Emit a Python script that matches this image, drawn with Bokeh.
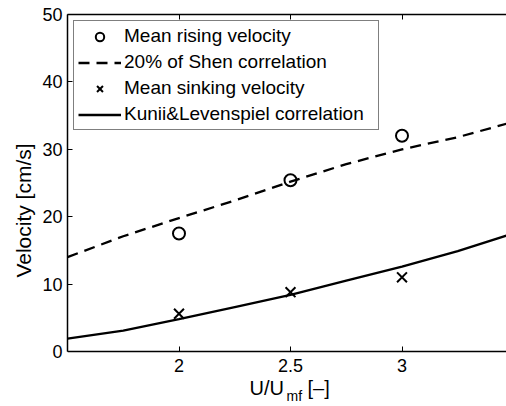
from bokeh.plotting import figure
from bokeh.models import (Range1d, FixedTicker, LinearAxis, Legend, LegendItem,
                          Label, CustomJSTickFormatter)
from bokeh.embed import file_html
from bokeh.resources import INLINE

# ---- data ----
u_ratio = [2.0, 2.5, 3.0]
rising = [17.5, 25.4, 32.0]
sinking = [5.6, 8.8, 11.0]

corr_x = [1.5, 1.75, 2.0, 2.25, 2.5, 2.75, 3.0, 3.25, 3.47]
shen20 = [14.0, 17.1, 19.8, 22.4, 25.2, 27.8, 30.0, 31.8, 33.8]
kunii = [1.9, 3.1, 4.8, 6.6, 8.4, 10.5, 12.6, 14.9, 17.2]

x_ticks = [2, 2.5, 3]
y_ticks = [0, 10, 20, 30, 40, 50]

FONT = "Liberation Sans"

# frame reaches the bottom of the page; the x axis is pinned at y = 0
p = figure(width=506, height=406, output_backend="svg", toolbar_location=None,
           x_range=Range1d(1.5, 3.4686), y_range=Range1d(-8.16, 50),
           min_border_left=67, min_border_right=0, min_border_top=14,
           min_border_bottom=0)
p.xgrid.visible = False
p.ygrid.visible = False
p.outline_line_color = None
p.background_fill_color = "white"
p.border_fill_color = "white"

p.xaxis.ticker = FixedTicker(ticks=x_ticks)
p.yaxis.ticker = FixedTicker(ticks=y_ticks)
p.xaxis.fixed_location = 0
p.yaxis.bounds = (0, 50)

for ax in [p.xaxis[0], p.yaxis[0]]:
    ax.major_tick_in = 5
    ax.major_tick_out = 0
    ax.minor_tick_in = 0
    ax.minor_tick_out = 0
    ax.axis_line_width = 1.5
    ax.axis_line_color = "black"
    ax.major_tick_line_color = "black"
    ax.major_tick_line_width = 1
    ax.major_label_text_font = FONT
    ax.major_label_text_font_size = "18px"
    ax.major_label_text_color = "black"

p.xaxis.major_label_standoff = 7
p.yaxis.major_label_standoff = 5
p.yaxis.axis_label = "Velocity [cm/s]"
p.yaxis.axis_label_text_font = FONT
p.yaxis.axis_label_text_font_size = "21px"
p.yaxis.axis_label_text_font_style = "normal"
p.yaxis.axis_label_text_color = "black"
p.yaxis.axis_label_standoff = 4

top = LinearAxis(ticker=FixedTicker(ticks=x_ticks),
                 formatter=CustomJSTickFormatter(code="return ''"),
                 major_tick_in=5, major_tick_out=0, minor_tick_in=0, minor_tick_out=0,
                 axis_line_width=1.5, axis_line_color="black",
                 major_label_text_font_size="0px", major_label_standoff=0)
p.add_layout(top, "above")

r_rise = p.scatter(u_ratio, rising, marker="circle", size=12, fill_color=None,
                   line_color="black", line_width=2)
r_shen = p.line(corr_x, shen20, line_dash="11 7", line_width=2.3, color="black")
r_sink = p.scatter(u_ratio, sinking, marker="x", size=14, line_color="black",
                   line_width=2)
r_kunii = p.line(corr_x, kunii, line_width=2.3, color="black")

legend = Legend(items=[
    LegendItem(label="Mean rising velocity", renderers=[r_rise]),
    LegendItem(label="20% of Shen correlation", renderers=[r_shen]),
    LegendItem(label="Mean sinking velocity", renderers=[r_sink]),
    LegendItem(label="Kunii&Levenspiel correlation", renderers=[r_kunii]),
], location="top_left", margin=6, padding=4, spacing=4,
    glyph_width=43, glyph_height=21, label_height=21, label_standoff=3,
    label_width=250,
    label_text_font=FONT, label_text_font_size="19px", label_text_color="black",
    border_line_color="black", border_line_width=1, background_fill_color="white",
    background_fill_alpha=1.0)
p.add_layout(legend)

# x-axis label with subscript (inside the extended frame, below y = 0)
p.add_layout(Label(x=2.316, y=-5.35, text="U/U", text_font=FONT, text_font_size="20px",
                   text_baseline="alphabetic", text_color="black"))
p.add_layout(Label(x=2.482, y=-6.65, text="mf", text_font=FONT, text_font_size="14px",
                   text_baseline="alphabetic", text_color="black"))
p.add_layout(Label(x=2.576, y=-5.35, text="[–]", text_font=FONT, text_font_size="20px",
                   text_baseline="alphabetic", text_color="black"))

open("out.html", "w").write(file_html(p, INLINE))
